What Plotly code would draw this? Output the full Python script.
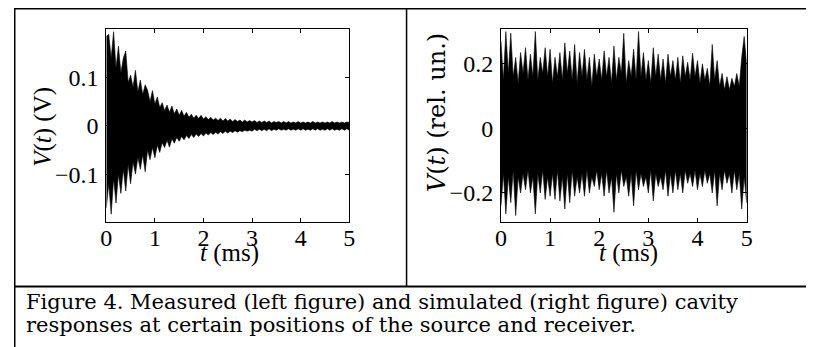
import plotly.graph_objects as go

# The page body adds an 8 px margin, so the figure is sized/positioned to compensate.
OFF = 8
W, H = 814 - OFF, 347 - OFF

# time samples (ms)
t = [round(i * 0.05, 2) for i in range(101)]

left_upper = [0.185, 0.19, 0.14, 0.195, 0.12, 0.165, 0.11, 0.14, 0.155, 0.09,
              0.105, 0.08, 0.115, 0.07, 0.095, 0.065, 0.085, 0.074, 0.05, 0.073,
              0.045, 0.06, 0.038, 0.048, 0.032, 0.043, 0.028, 0.041, 0.025, 0.035,
              0.022, 0.032, 0.02, 0.028, 0.018, 0.024, 0.016, 0.022, 0.015, 0.022,
              0.014, 0.019, 0.013, 0.018, 0.012, 0.016, 0.011, 0.016, 0.010, 0.015,
              0.010, 0.014, 0.009, 0.013, 0.009, 0.012, 0.008, 0.012, 0.008, 0.011,
              0.008, 0.011, 0.007, 0.010, 0.007, 0.010, 0.007, 0.010, 0.006, 0.009,
              0.007, 0.009, 0.006, 0.009, 0.006, 0.009, 0.006, 0.008, 0.006, 0.009,
              0.006, 0.008, 0.006, 0.008, 0.006, 0.009, 0.006, 0.008, 0.006, 0.008,
              0.006, 0.008, 0.006, 0.009, 0.006, 0.008, 0.006, 0.008, 0.006, 0.008,
              0.007]
left_lower = [-0.17, -0.12, -0.183, -0.11, -0.16, -0.10, -0.14, -0.09, -0.135, -0.08,
              -0.12, -0.075, -0.10, -0.065, -0.09, -0.06, -0.095, -0.05, -0.07, -0.045,
              -0.066, -0.04, -0.055, -0.035, -0.045, -0.03, -0.044, -0.027, -0.036, -0.024,
              -0.032, -0.022, -0.029, -0.02, -0.026, -0.018, -0.024, -0.017, -0.022, -0.016,
              -0.021, -0.015, -0.019, -0.014, -0.018, -0.013, -0.017, -0.012, -0.016, -0.011,
              -0.015, -0.011, -0.014, -0.010, -0.013, -0.010, -0.012, -0.009, -0.011, -0.009,
              -0.011, -0.007, -0.010, -0.007, -0.010, -0.007, -0.010, -0.006, -0.010, -0.007,
              -0.009, -0.006, -0.009, -0.007, -0.009, -0.006, -0.009, -0.007, -0.009, -0.006,
              -0.009, -0.006, -0.009, -0.007, -0.009, -0.006, -0.009, -0.006, -0.009, -0.007,
              -0.009, -0.006, -0.009, -0.006, -0.009, -0.007, -0.009, -0.006, -0.009, -0.006,
              -0.009]

# simulated response: upper / lower peak envelope (rel. un.)
right_upper = [0.27, 0.15, 0.30, 0.17, 0.295, 0.16, 0.22, 0.14, 0.235, 0.17,
               0.25, 0.15, 0.23, 0.16, 0.30, 0.15, 0.22, 0.17, 0.25, 0.16,
               0.245, 0.14, 0.22, 0.16, 0.235, 0.15, 0.265, 0.17, 0.24, 0.15,
               0.26, 0.14, 0.235, 0.16, 0.245, 0.15, 0.22, 0.13, 0.23, 0.16,
               0.215, 0.15, 0.24, 0.16, 0.22, 0.14, 0.255, 0.15, 0.22, 0.17,
               0.295, 0.14, 0.21, 0.16, 0.245, 0.15, 0.30, 0.16, 0.235, 0.15,
               0.21, 0.14, 0.25, 0.16, 0.23, 0.15, 0.215, 0.14, 0.23, 0.16,
               0.21, 0.15, 0.22, 0.14, 0.225, 0.16, 0.205, 0.15, 0.233, 0.16,
               0.21, 0.14, 0.20, 0.15, 0.186, 0.13, 0.26, 0.15, 0.21, 0.13,
               0.17, 0.12, 0.16, 0.12, 0.155, 0.13, 0.17, 0.13, 0.22, 0.285,
               0.20]
right_lower = [-0.24, -0.14, -0.265, -0.15, -0.23, -0.13, -0.27, -0.15, -0.20, -0.14,
               -0.19, -0.13, -0.20, -0.15, -0.265, -0.14, -0.20, -0.13, -0.22, -0.15,
               -0.21, -0.14, -0.22, -0.13, -0.225, -0.15, -0.25, -0.14, -0.23, -0.13,
               -0.21, -0.15, -0.20, -0.14, -0.21, -0.13, -0.20, -0.15, -0.18, -0.13,
               -0.19, -0.14, -0.21, -0.13, -0.20, -0.15, -0.26, -0.14, -0.20, -0.13,
               -0.18, -0.15, -0.21, -0.14, -0.24, -0.13, -0.19, -0.14, -0.18, -0.15,
               -0.20, -0.13, -0.225, -0.14, -0.18, -0.15, -0.19, -0.13, -0.21, -0.14,
               -0.20, -0.13, -0.19, -0.14, -0.20, -0.13, -0.17, -0.14, -0.18, -0.13,
               -0.19, -0.14, -0.18, -0.13, -0.17, -0.14, -0.20, -0.13, -0.24, -0.14,
               -0.19, -0.13, -0.17, -0.14, -0.20, -0.13, -0.19, -0.14, -0.25, -0.15,
               -0.23]

x_ticks = [0, 1, 2, 3, 4, 5]
left_yticks = [-0.1, 0, 0.1]
left_yticktext = ["\u22120.1", "0", "0.1"]
right_yticks = [-0.2, 0, 0.2]
right_yticktext = ["\u22120.2", "0", "0.2"]

caption_lines = ["Figure 4. Measured (left figure) and simulated (right figure) cavity",
                 "responses at certain positions of the source and receiver."]

FONT = "Liberation Serif"
WIDE = "DejaVu Serif"


def band(up, lo):
    xs = list(t) + list(reversed(t))
    ys = list(up) + list(reversed(lo))
    return xs, ys


def px(x):
    return (x - OFF) / W


def py(y):
    return 1 - (y - OFF) / H


fig = go.Figure()
lx, ly = band(left_upper, left_lower)
rx, ry = band(right_upper, right_lower)
fig.add_trace(go.Scatter(x=lx, y=ly, mode="lines", fill="toself", fillcolor="black",
                         line=dict(color="black", width=0.6),
                         xaxis="x", yaxis="y", showlegend=False, hoverinfo="skip"))
fig.add_trace(go.Scatter(x=rx, y=ry, mode="lines", fill="toself", fillcolor="black",
                         line=dict(color="black", width=0.6),
                         xaxis="x2", yaxis="y2", showlegend=False, hoverinfo="skip"))

ax_common = dict(showline=True, linecolor="black", linewidth=1, mirror="ticks",
                 ticks="inside", ticklen=4, tickcolor="black", showgrid=False,
                 zeroline=False, tickfont=dict(family=FONT, size=24, color="black"))

ydom = [py(221.7), py(29.3)]
fig.update_layout(
    width=W, height=H, autosize=False,
    margin=dict(l=0, r=0, t=0, b=0),
    paper_bgcolor="white", plot_bgcolor="white",
    xaxis=dict(domain=[px(101.7), px(348.3)], range=[0, 5], tickvals=x_ticks,
               anchor="y", ticklabelstandoff=-6, **ax_common),
    yaxis=dict(domain=ydom, range=[-0.1985, 0.2], tickvals=left_yticks,
               ticktext=left_yticktext, anchor="x", ticklabelstandoff=2, **ax_common),
    xaxis2=dict(domain=[px(502.3), px(751.7)], range=[0, 5], tickvals=x_ticks,
                anchor="y2", ticklabelstandoff=-6, **ax_common),
    yaxis2=dict(domain=ydom, range=[-0.289, 0.307], tickvals=right_yticks,
                ticktext=right_yticktext, anchor="x2", ticklabelstandoff=2, **ax_common),
)

ann = []
lab_font = dict(family=FONT, size=25, color="black")
ann.append(dict(x=px(36.7), y=py(126.5), xref="paper", yref="paper",
                text="<i>V</i>(<i>t</i>) (V)", textangle=-90, showarrow=False,
                font=lab_font, xanchor="center", yanchor="middle"))
ann.append(dict(x=px(437), y=py(112.5), xref="paper", yref="paper",
                text="<i>V</i>(<i>t</i>) (rel. un.)", textangle=-90, showarrow=False,
                font=dict(family=WIDE, size=24, color="black"),
                xanchor="center", yanchor="middle"))
ann.append(dict(x=px(226.5), y=py(253), xref="paper", yref="paper",
                text="<i>t</i> (ms)", showarrow=False, font=lab_font,
                xanchor="center", yanchor="middle"))
ann.append(dict(x=px(631.5), y=py(253), xref="paper", yref="paper",
                text="<i>t</i> (ms)", showarrow=False, font=lab_font,
                xanchor="center", yanchor="middle"))
cap_font = dict(family=WIDE, size=21, color="black")
ann.append(dict(x=px(18), y=py(302), xref="paper", yref="paper", text=caption_lines[0],
                showarrow=False, font=cap_font, xanchor="left", yanchor="middle"))
ann.append(dict(x=px(18), y=py(324.5), xref="paper", yref="paper", text=caption_lines[1],
                showarrow=False, font=cap_font, xanchor="left", yanchor="middle"))
fig.update_layout(annotations=ann)

shapes = [
    dict(type="line", xref="paper", yref="paper", x0=0, x1=1, y0=py(8.75), y1=py(8.75),
         line=dict(color="black", width=1.5)),
    dict(type="line", xref="paper", yref="paper", x0=px(8.75), x1=px(8.75), y0=py(8), y1=0,
         line=dict(color="black", width=1.5)),
    dict(type="line", xref="paper", yref="paper", x0=0, x1=1, y0=py(286.5), y1=py(286.5),
         line=dict(color="black", width=2)),
    dict(type="line", xref="paper", yref="paper", x0=px(406.5), x1=px(406.5), y0=py(8),
         y1=py(286.5), line=dict(color="black", width=1.5)),
]
fig.update_layout(shapes=shapes)

fig.write_html("out.html")
